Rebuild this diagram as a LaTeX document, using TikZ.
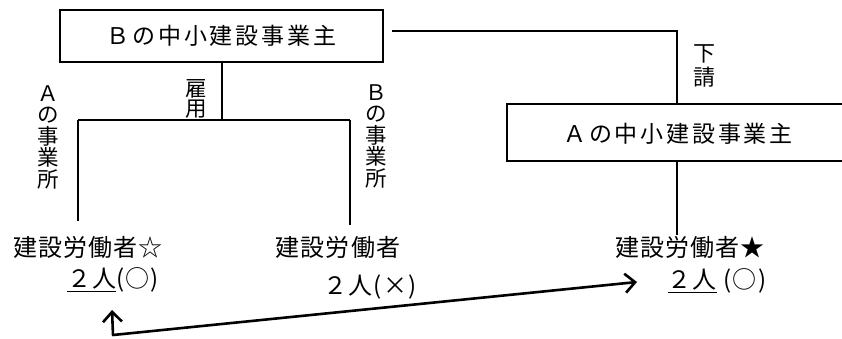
\documentclass[tikz,border=0pt]{standalone}
\usepackage{fontspec}
\setmainfont{Noto Sans CJK JP}
\usetikzlibrary{arrows.meta}
\tikzset{
  x=1pt, y=-1pt,
  box/.style={draw, line width=2.2pt, inner sep=0pt, font=\fontsize{23}{26}\selectfont\addfontfeature{LetterSpace=12}},
  conn/.style={line width=2.4pt},
  lbl/.style={inner sep=0pt, font=\fontsize{24}{28}\selectfont\addfontfeature{LetterSpace=5}},
  vlbl/.style={inner sep=0pt, align=center, font=\fontsize{21.5}{21.5}\selectfont},
  tipstyle/.tip={Straight Barb[length=10pt,width=19pt,line width=2.6pt]},
  arr/.style={line width=2.6pt, line join=round, tipstyle-tipstyle}
}
\begin{document}
\begin{tikzpicture}
\useasboundingbox (0,0) rectangle (842,338);
\clip (0,0) rectangle (842,338);
% boxes
\node[box, minimum width=323pt, minimum height=52pt] (bB) at (221.5,36) {Ｂの中小建設事業主};
\node[box, minimum width=343pt, minimum height=57pt] (aA) at (678.5,132.5) {};
\node[box, draw=none] (aAt) at (678,134) {Ａの中小建設事業主};
% worker texts
\node[lbl] (w1) at (88,247) {建設労働者☆};
\node[lbl] (w1n) at (113,280) {\underline{２人}(○)};
\node[lbl] (w2) at (338,247) {建設労働者};
\node[lbl] (w2n) at (370,287) {２人(×)};
\node[lbl] (w3) at (690,247) {建設労働者★};
\node[lbl] (w3n) at (717,281) {\underline{２人} (○)};
% vertical labels
\node[vlbl] (la) at (48,137) {Ａ\\の\\事\\業\\所};
\node[vlbl] (lb) at (376,136) {Ｂ\\の\\事\\業\\所};
\node[vlbl, font=\fontsize{21.5}{20}\selectfont] (ly) at (196,99) {雇\\用};
\node[vlbl, font=\fontsize{22}{24}\selectfont] (ls) at (704,66) {下\\請};
% connector coordinates
\coordinate (j) at (222,120);
\coordinate (jl) at (78,120);
\coordinate (jr) at (350,120);
\coordinate (el) at (78,221);
\coordinate (er) at (350,225);
\coordinate (s1) at (392,31);
\coordinate (s2) at (677,31);
\coordinate (e3) at (677,235);
\coordinate (tipU) at (112,310);
\coordinate (corner) at (113,335);
\coordinate (tipR) at (637,282);
% connectors
\draw[conn] (bB.south -| j) -- (j);
\draw[conn] (jl) -- (jr);
\draw[conn] (jl) -- (el);
\draw[conn] (jr) -- (er);
\draw[conn] (s1) -- (s2) -- (aA.north -| s2);
\draw[conn] (aA.south -| s2) -- (e3);
\draw[arr] (tipU) -- (corner) -- (tipR);
\end{tikzpicture}
\end{document}
